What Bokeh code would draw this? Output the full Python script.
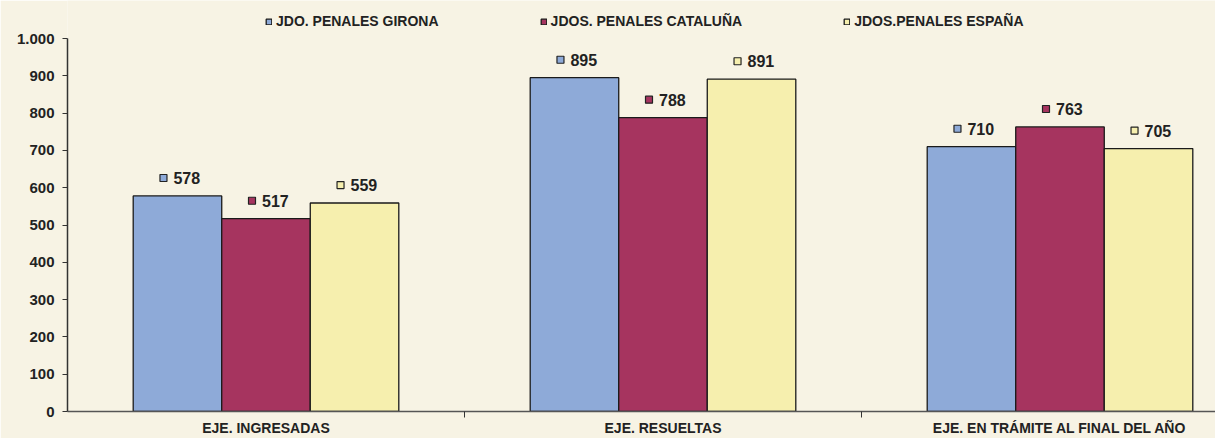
from bokeh.plotting import figure
from bokeh.models import (Range1d, FixedTicker, ColumnDataSource, Legend, LegendItem)
from bokeh.transform import dodge
from bokeh.embed import file_html
from bokeh.resources import INLINE
from bokeh.core.properties import value

# ---- data ----
categories = ["EJE. INGRESADAS", "EJE. RESUELTAS", "EJE. EN TRÁMITE AL FINAL DEL AÑO"]
series = ["JDO. PENALES GIRONA", "JDOS. PENALES CATALUÑA", "JDOS.PENALES ESPAÑA"]
girona = [578, 895, 710]
cataluna = [517, 788, 763]
espana = [559, 891, 705]
y_ticks = [0, 100, 200, 300, 400, 500, 600, 700, 800, 900, 1000]
y_tick_labels = ["0", "100", "200", "300", "400", "500", "600", "700", "800", "900", "1.000"]

# ---- style ----
BG = "#f7f3e4"
colors = ["#8eaad8", "#a6345f", "#f6efae"]
FONT = "Liberation Sans"
BAR_W = 0.223
offsets = [-BAR_W, 0.0, BAR_W]
PX_PER_GROUP = 397.0
PX_PER_UNIT_Y = 0.374

group_pos = [i + 0.5 for i in range(len(categories))]
boundaries = [float(i) for i in range(1, len(categories))]

src = ColumnDataSource(dict(
    x=group_pos, cat=categories,
    s0=girona, s1=cataluna, s2=espana,
    l0=[str(v) for v in girona], l1=[str(v) for v in cataluna], l2=[str(v) for v in espana],
))

p = figure(width=1215, height=438,
           x_range=Range1d(0, 1148 / PX_PER_GROUP), y_range=Range1d(0, 1102),
           output_backend="svg", toolbar_location=None,
           min_border_left=67, min_border_right=0, min_border_top=0, min_border_bottom=26,
           background_fill_color=BG, border_fill_color=BG, outline_line_color=None)

p.xgrid.visible = False
p.ygrid.visible = False

renderers = []
for i in range(3):
    col = "s%d" % i
    lab = "l%d" % i
    off = offsets[i]
    r = p.vbar(x=dodge("x", off, range=p.x_range), top=col, width=BAR_W, bottom=0,
               source=src, fill_color=colors[i], line_color="#1a1a1a", line_width=1.3)
    renderers.append(r)
    p.text(x=dodge("x", off, range=p.x_range), y=col, text=lab, source=src,
           x_offset=-4, y_offset=-18, text_align="left", text_baseline="middle",
           text_font=value(FONT), text_font_style="bold", text_font_size="16px",
           text_color="#222222")
    p.scatter(x=dodge("x", off - 14 / PX_PER_GROUP, range=p.x_range),
              y=dodge(col, 18 / PX_PER_UNIT_Y), source=src, marker="square", size=7,
              fill_color=colors[i], line_color="#222222", line_width=1.2)

legend = Legend(items=[LegendItem(label=series[i], renderers=[renderers[i]]) for i in range(3)],
                orientation="horizontal", location=(198, 382),
                glyph_width=7, glyph_height=7, label_standoff=4, spacing=101,
                padding=0, margin=0, border_line_color=None, background_fill_alpha=0,
                label_text_font=FONT, label_text_font_style="bold",
                label_text_font_size="14px", label_height=14, label_text_color="#222222")
p.add_layout(legend)

# y axis
ya = p.yaxis[0]
ya.ticker = FixedTicker(ticks=y_ticks)
ya.bounds = (0, 1000)
ya.major_label_overrides = {t: s for t, s in zip(y_ticks, y_tick_labels)}
ya.major_tick_out = 5
ya.major_tick_in = 0
ya.minor_tick_out = 0
ya.minor_tick_in = 0
ya.axis_line_color = "#333333"
ya.axis_line_width = 1.5
ya.major_tick_line_color = "#333333"
ya.major_label_standoff = 8
ya.major_label_text_font = FONT
ya.major_label_text_font_style = "bold"
ya.major_label_text_font_size = "15px"
ya.major_label_text_color = "#222222"

# x axis
xa = p.xaxis[0]
xa.ticker = FixedTicker(ticks=group_pos, minor_ticks=boundaries)
xa.major_label_overrides = {pos: cat for pos, cat in zip(group_pos, categories)}
xa.major_tick_out = 0
xa.major_tick_in = 0
xa.minor_tick_out = 6
xa.minor_tick_in = 0
xa.minor_tick_line_color = "#333333"
xa.axis_line_color = "#555555"
xa.axis_line_width = 1.5
xa.major_label_standoff = 2
xa.major_label_text_font = FONT
xa.major_label_text_font_style = "bold"
xa.major_label_text_font_size = "14px"
xa.major_label_text_color = "#222222"

open("out.html", "w").write(file_html(p, INLINE))
